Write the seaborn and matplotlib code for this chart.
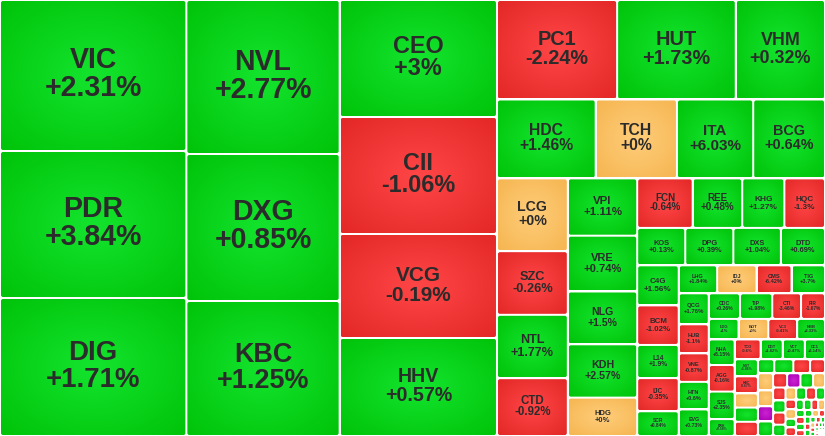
import numpy as np
import matplotlib
matplotlib.use("Agg")
import matplotlib.pyplot as plt
from matplotlib.patches import FancyBboxPatch
import seaborn as sns

# ---- data (cell sizes, in relative units) ----
tickers = ["VIC", "PDR", "DIG", "NVL", "DXG", "KBC", "CEO", "CII", "VCG", "HHV",
           "PC1", "HUT", "VHM", "HDC", "TCH", "ITA", "BCG",
           "LCG", "SZC", "NTL", "CTD", "VPI", "VRE", "NLG", "KDH", "HDG",
           "FCN", "REE", "KHG", "HQC", "KOS", "DPG", "DXS", "DTD",
           "C4G", "BCM", "L14", "IJC", "SCR", "LHG", "IDJ", "CMS", "TIG",
           "QCG", "HUB", "VNE", "HTN", "EVG", "CDC", "TIP", "CTI", "FIR",
           "LDG", "BOT", "VC3", "NBB", "NHA", "AGG", "SJS", "DRH",
           "TCO", "DGT", "VCT", "CC1", "MST", "HBC"]
changes = [2.31, 3.84, 1.71, 2.77, 0.85, 1.25, 3.0, -1.06, -0.19, 0.57,
           -2.24, 1.73, 0.32, 1.46, 0.0, 6.03, 0.64,
           0.0, -0.26, 1.77, -0.92, 1.11, 0.74, 1.5, 2.57, 0.0,
           -0.64, 0.48, 1.27, -1.3, 0.13, 0.39, 1.04, 0.69,
           1.56, -1.02, 1.9, -0.35, 0.84, 1.84, 0.0, -6.42, 3.7,
           1.76, -1.1, -0.87, 0.6, 0.73, 0.26, 1.98, -3.46, -1.67,
           1.0, 0.0, -0.41, 2.33, 5.15, -0.16, 2.35, 0.58,
           -0.6, 1.82, 0.47, 6.14, 1.86, -0.67]
sizes = [28086, 27342, 25668, 23562, 22491, 20655, 18369, 18369, 16328, 15386,
         11930, 11781, 8861, 7772, 6398, 6005, 5652,
         5147, 4500, 4480, 4089, 3968, 3864, 3657, 3692, 2657,
         2744, 2450, 2083, 2009, 1795, 1795, 1776, 1647,
         1660, 1640, 1374, 1374, 1025, 1073, 1100, 976, 935,
         929, 870, 855, 826, 796, 800, 825, 737, 612,
         610, 610, 590, 570, 662, 687, 712, 437,
         513, 437, 437, 399, 396, 396]

# small unlabeled stocks at the end: size and direction (1 up, -1 down, 0 flat, 2 ceiling)
tail_sizes = [330, 330, 330, 228, 266, 234, 208,
              260, 240, 230, 220, 200, 190, 180, 170, 160, 150, 150, 140,
              130, 120, 120, 110, 100, 100, 90, 90, 80, 80, 70, 70, 60,
              60, 55, 50, 50, 45, 40, 40, 35, 35, 30, 30, 25, 25, 20,
              20, 18, 16, 14, 12, 10, 10, 8, 8, 6, 6, 5, 5, 4, 4, 3, 3]
tail_moves = [0, 1, -1, 1, 1, -1, -1,
              0, 0, 2, 1, -1, 2, 1, 0, -1, 1, -1, 1,
              0, 1, -1, 1, -1, 0, 1, -1, 1, 1, -1, 0, 1,
              -1, 1, -1, 1, 0, -1, 1, -1, 1, 1, -1, 1, 0, -1,
              1, -1, 1, -1, 1, 0, -1, 1, -1, 1, 0, 1, -1, 1, -1, 1, 0]

# how many stocks go in each strip of the layout, and whether the strip is a column (v) or row (h)
strip_counts = [3, 3, 4, 3, 4, 4, 5, 4, 4, 5, 4, 5, 4, 4, 4, 4, 5, 4]
strip_dirs = "vvvhhvvhhvhvhhvhvh"

W, H = 825, 436


def layout(values, x0, y0, x1, y1, counts, dirs, ratio=1.15):
    rects = []
    total = float(sum(values))
    n = len(values)
    i0, k = 0, 0
    while i0 < n:
        dx, dy = x1 - x0, y1 - y0
        if k < len(counts):
            i1 = min(n, i0 + counts[k])
            as_row = dirs[k] == "h"
            k += 1
        else:
            # greedy squarify for the tail
            as_row = dx < dy
            alpha = max(dy / dx, dx / dy) / (total * ratio)
            s = values[i0]
            mn = mx = s
            beta = s * s * alpha
            best = max(mx / beta, beta / mn)
            i1 = i0 + 1
            while i1 < n:
                v = values[i1]
                s2 = s + v
                beta = s2 * s2 * alpha
                r = max(max(mx, v) / beta, beta / min(mn, v))
                if r > best:
                    break
                best, s = r, s2
                mn, mx = min(mn, v), max(mx, v)
                i1 += 1
        row = values[i0:i1]
        s = float(sum(row))
        if as_row:
            h = dy * s / total
            xx = x0
            for v in row:
                w = dx * v / s
                rects.append((xx, y0, w, h))
                xx += w
            y0 += h
        else:
            w = dx * s / total
            yy = y0
            for v in row:
                hh = dy * v / s
                rects.append((x0, yy, w, hh))
                yy += hh
            x0 += w
        total -= s
        i0 = i1
    return rects


sns.set_theme(style="white")
plt.rcParams['font.family'] = ['Liberation Sans', 'DejaVu Sans']

palettes = {
    1: sns.blend_palette(["#14e42e", "#00c40a"], as_cmap=True),
    -1: sns.blend_palette(["#ff4646", "#e42828"], as_cmap=True),
    0: sns.blend_palette(["#ffcd7a", "#f6b652"], as_cmap=True),
    2: sns.blend_palette(["#cc22d2", "#a800b4"], as_cmap=True),
}

gu, gv = np.meshgrid(np.linspace(-1, 1, 32), np.linspace(-1, 1, 32))
radial = np.clip(np.sqrt(gu ** 2 + gv ** 2) / np.sqrt(2), 0, 1)

all_sizes = sizes + tail_sizes
moves = [int(np.sign(c)) for c in changes] + tail_moves
labels = tickers + [None] * len(tail_sizes)
pcts = changes + [None] * len(tail_sizes)

rects = layout(all_sizes, 0, 0, W, H, strip_counts, strip_dirs)

fig = plt.figure(figsize=(W / 100, H / 100), dpi=100)
ax = fig.add_axes([0, 0, 1, 1])
ax.set_facecolor("white")

pad = 1.0
for (x, y, w, h), mv, lab, pc in zip(rects, moves, labels, pcts):
    iw, ih = w - 2 * pad, h - 2 * pad
    if iw <= 0.3 or ih <= 0.3:
        continue
    box = FancyBboxPatch((x + pad, y + pad), iw, ih,
                         boxstyle="round,pad=0,rounding_size=%.2f" % min(2.0, iw / 3, ih / 3),
                         linewidth=0, facecolor="none")
    ax.add_patch(box)
    im = ax.imshow(radial, cmap=palettes[mv], vmin=0, vmax=1,
                   extent=(x + pad, x + pad + iw, y + pad + ih, y + pad),
                   interpolation="bilinear", aspect="auto")
    im.set_clip_path(box)
    if lab is None:
        continue
    fs_px = min(0.2 * min(w, h), 28.5)
    fs = fs_px * 0.72
    cx, cy = x + w / 2, y + h / 2
    txt = "%+.2f" % pc
    txt = txt.rstrip("0").rstrip(".") + "%"
    if pc == 0:
        txt = "+0%"
    ax.text(cx, cy - 0.25 * fs_px, lab, ha="center", va="baseline",
            fontsize=fs, fontweight="bold", color="#2b2b2b")
    ax.text(cx, cy + 0.72 * fs_px, txt, ha="center", va="baseline",
            fontsize=fs, fontweight="bold", color="#2b2b2b")

ax.set_xlim(0, W)
ax.set_ylim(H, 0)
ax.axis("off")
fig.savefig("out.png", dpi=100)
